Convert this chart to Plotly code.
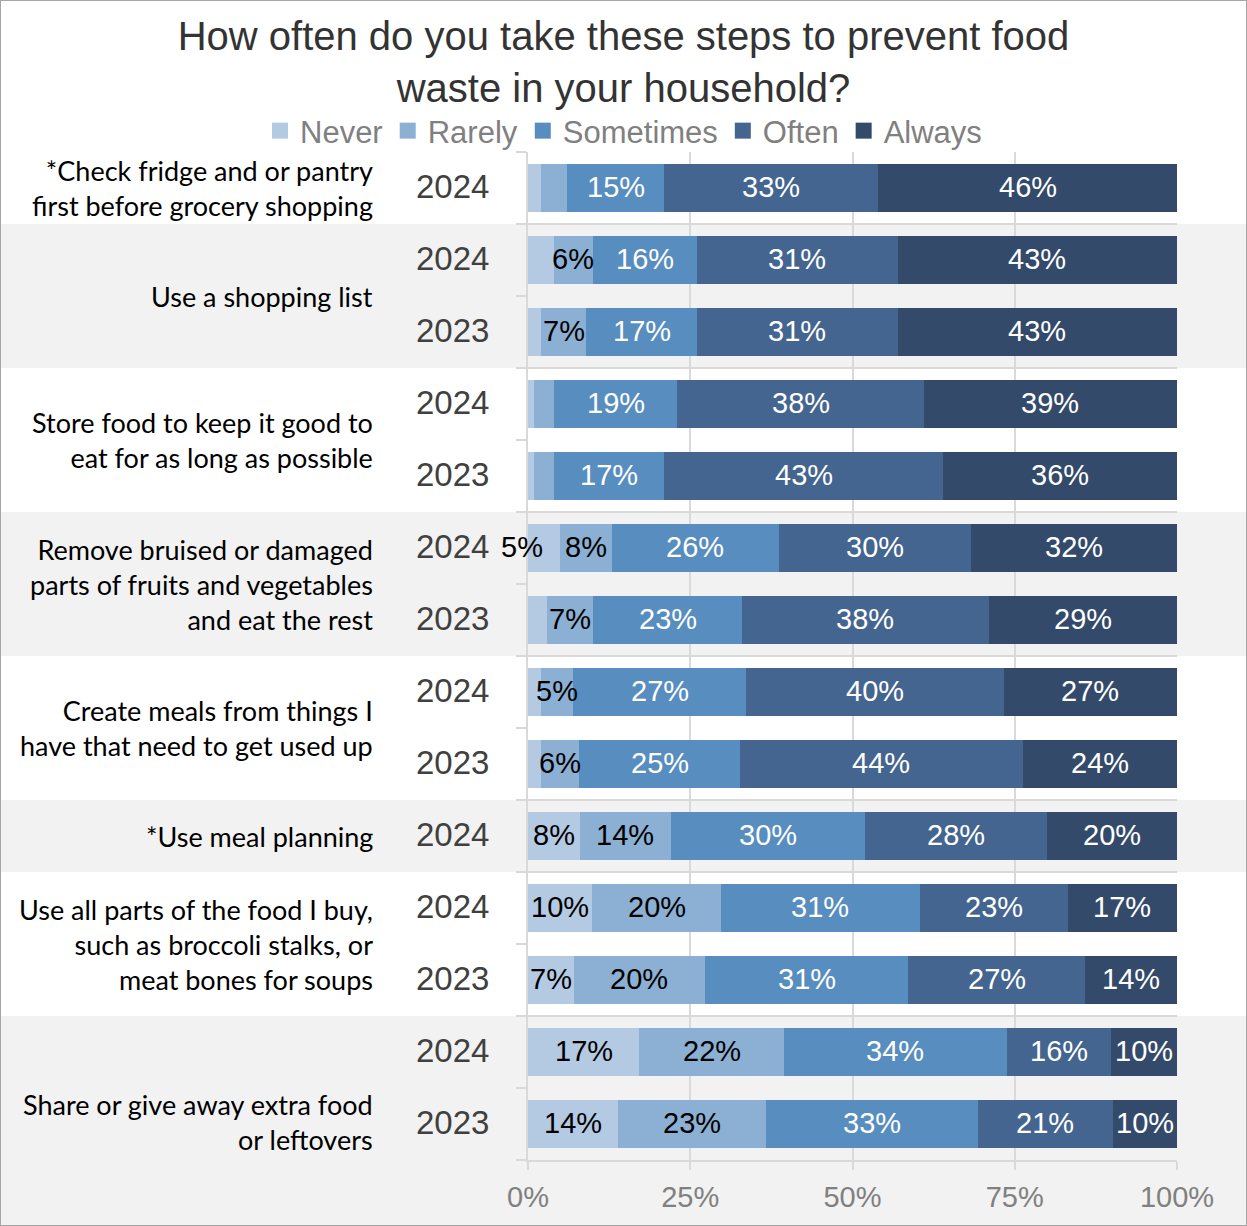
import plotly.graph_objects as go

# Survey items (label lines joined with <br>) and the rows belonging to each item
items = [
    "*Check fridge and or pantry<br>first before grocery shopping",
    "Use a shopping list",
    "Store food to keep it good to<br>eat for as long as possible",
    "Remove bruised or damaged<br>parts of fruits and vegetables<br>and eat the rest",
    "Create meals from things I<br>have that need to get used up",
    "*Use meal planning",
    "Use all parts of the food I buy,<br>such as broccoli stalks, or<br>meat bones for soups",
    "Share or give away extra food<br>or leftovers",
]
item_rows = [[0], [1, 2], [3, 4], [5, 6], [7, 8], [9], [10, 11], [12, 13]]
years = ["2024", "2024", "2023", "2024", "2023", "2024", "2023",
         "2024", "2023", "2024", "2024", "2023", "2024", "2023"]

# Response shares (%) per row, top to bottom
never = [2, 4, 2, 1, 1, 5, 3, 2, 2, 8, 10, 7, 17, 14]
rarely = [4, 6, 7, 3, 3, 8, 7, 5, 6, 14, 20, 20, 22, 23]
sometimes = [15, 16, 17, 19, 17, 26, 23, 27, 25, 30, 31, 31, 34, 33]
often = [33, 31, 31, 38, 43, 30, 38, 40, 44, 28, 23, 27, 16, 21]
always = [46, 43, 43, 39, 36, 32, 29, 27, 24, 20, 17, 14, 10, 10]

responses = ["Never", "Rarely", "Sometimes", "Often", "Always"]
series = [never, rarely, sometimes, often, always]
colors = ["#b4cae3", "#8bb0d3", "#578dbf", "#44658f", "#334a6b"]
label_colors = ["#000000", "#000000", "#ffffff", "#ffffff", "#ffffff"]

x_ticks = [0, 25, 50, 75, 100]

W, H = 1247, 1226
ML, MR, MT, MB = 528, 70, 152, 66
PW, PH = W - ML - MR, H - MT - MB
n_rows = len(years)
rows = list(range(n_rows))

NUM_FONT = "Liberation Sans, Arial, sans-serif"
LABEL_FONT = "Lato, Open Sans, sans-serif"
GRID = "#d9d9d9"

fig = go.Figure()

# stacked bars, each row normalised to 100% by barnorm
for name, vals, col in zip(responses, series, colors):
    fig.add_trace(go.Bar(
        y=rows, x=vals, orientation="h", name=name,
        marker=dict(color=col, line=dict(width=0)),
        showlegend=False, hoverinfo="skip",
    ))

# legend swatches
for name, col in zip(responses, colors):
    fig.add_trace(go.Scatter(
        x=[None], y=[None], mode="markers", name=name,
        marker=dict(symbol="square", size=16, color=col),
        showlegend=True,
    ))

annotations = []

# value labels at the middle of each normalised segment (shares of 5% or more);
# a label too wide for a segment at the bar start is pushed out to the left
totals = [sum(s[r] for s in series) for r in rows]
cum = [0.0] * n_rows
for si, (vals, tcol) in enumerate(zip(series, label_colors)):
    for r in rows:
        left = cum[r] / totals[r] * 100
        right = (cum[r] + vals[r]) / totals[r] * 100
        cum[r] += vals[r]
        if vals[r] < 5:
            continue
        if si == 0 and right - left < 6:
            x, anchor = right - 2.3, "right"
        else:
            x, anchor = (left + right) / 2, "center"
        annotations.append(dict(
            text=f"{vals[r]}%", xref="x", yref="y", x=x, y=r, yshift=1,
            xanchor=anchor, yanchor="middle", showarrow=False,
            font=dict(family=NUM_FONT, size=29, color=tcol),
        ))


def paper_y(b):
    """Row-boundary value (e.g. 0.5) -> paper y coordinate."""
    return 1 - (b + 0.5) / n_rows


x_left = -ML / PW
x_right = 1 + MR / PW
shapes = []
for gi, rws in enumerate(item_rows):
    if gi % 2 == 1:
        top = paper_y(rws[0] - 0.5)
        bot = paper_y(rws[-1] + 0.5) if gi < len(item_rows) - 1 else -MB / PH
        shapes.append(dict(type="rect", xref="paper", yref="paper",
                           x0=x_left, x1=x_right, y0=bot, y1=top,
                           fillcolor="#f2f2f2", line=dict(width=0), layer="below"))
# outer frame
shapes.append(dict(type="rect", xref="paper", yref="paper",
                   x0=x_left, x1=x_right, y0=-MB / PH, y1=1 + MT / PH,
                   fillcolor="rgba(0,0,0,0)", line=dict(color="#a6a6a6", width=2),
                   layer="above"))

for label, rws in zip(items, item_rows):
    yc = sum(rws) / len(rws)
    if label.startswith("Share"):
        yc += 0.47
    annotations.append(dict(
        text=label, xref="paper", yref="y", x=(375 - ML) / PW, y=yc,
        xanchor="right", yanchor="middle", align="right", showarrow=False,
        font=dict(family=LABEL_FONT, size=27, color="#000000"),
    ))
for r, yr in zip(rows, years):
    annotations.append(dict(
        text=yr, xref="paper", yref="y", x=(491 - ML) / PW, y=r, yshift=2,
        xanchor="right", yanchor="middle", showarrow=False,
        font=dict(family=NUM_FONT, size=33, color="#404040"),
    ))

major_b = [-0.5] + [rws[-1] + 0.5 for rws in item_rows]
minor_b = [r + 0.5 for rws in item_rows for r in rws[:-1]]

fig.update_layout(
    width=W, height=H,
    margin=dict(l=ML, r=MR, t=MT, b=MB, autoexpand=False),
    paper_bgcolor="#ffffff", plot_bgcolor="rgba(0,0,0,0)",
    barmode="stack", barnorm="percent", bargap=0.333,
    title=dict(
        text="How often do you take these steps to prevent food<br>waste in your household?",
        x=0.5, xref="container", xanchor="center",
        y=1 - 50 / H, yref="container", yanchor="middle",
        font=dict(family=NUM_FONT, size=40, color="#333333"),
    ),
    legend=dict(
        orientation="h", traceorder="normal",
        x=(260 - ML) / PW, xanchor="left",
        y=1 + (MT - 131) / PH, yanchor="middle",
        font=dict(family=NUM_FONT, size=31, color="#808080"),
        bgcolor="rgba(0,0,0,0)", itemwidth=30,
    ),
    xaxis=dict(
        range=[0, 100], tickmode="array", tickvals=x_ticks,
        ticktext=[f"{t}%" for t in x_ticks],
        showgrid=True, gridcolor=GRID, gridwidth=2,
        ticks="outside", ticklen=8, tickcolor=GRID, tickwidth=2,
        showline=True, linecolor=GRID, linewidth=2, zeroline=False,
        tickfont=dict(family=NUM_FONT, size=29, color="#808080"),
        ticklabelstandoff=2, fixedrange=True,
    ),
    yaxis=dict(
        range=[n_rows - 0.5, -0.5], tickmode="array", tickvals=major_b,
        showticklabels=False, showgrid=True, gridcolor=GRID, gridwidth=2,
        ticks="outside", ticklen=10, tickcolor=GRID, tickwidth=2,
        showline=True, linecolor=GRID, linewidth=2, zeroline=False,
        minor=dict(tickmode="array", tickvals=minor_b, ticks="outside",
                   ticklen=10, tickcolor=GRID, tickwidth=2, showgrid=False),
        fixedrange=True,
    ),
    shapes=shapes, annotations=annotations,
)

fig.write_html("out.html")
